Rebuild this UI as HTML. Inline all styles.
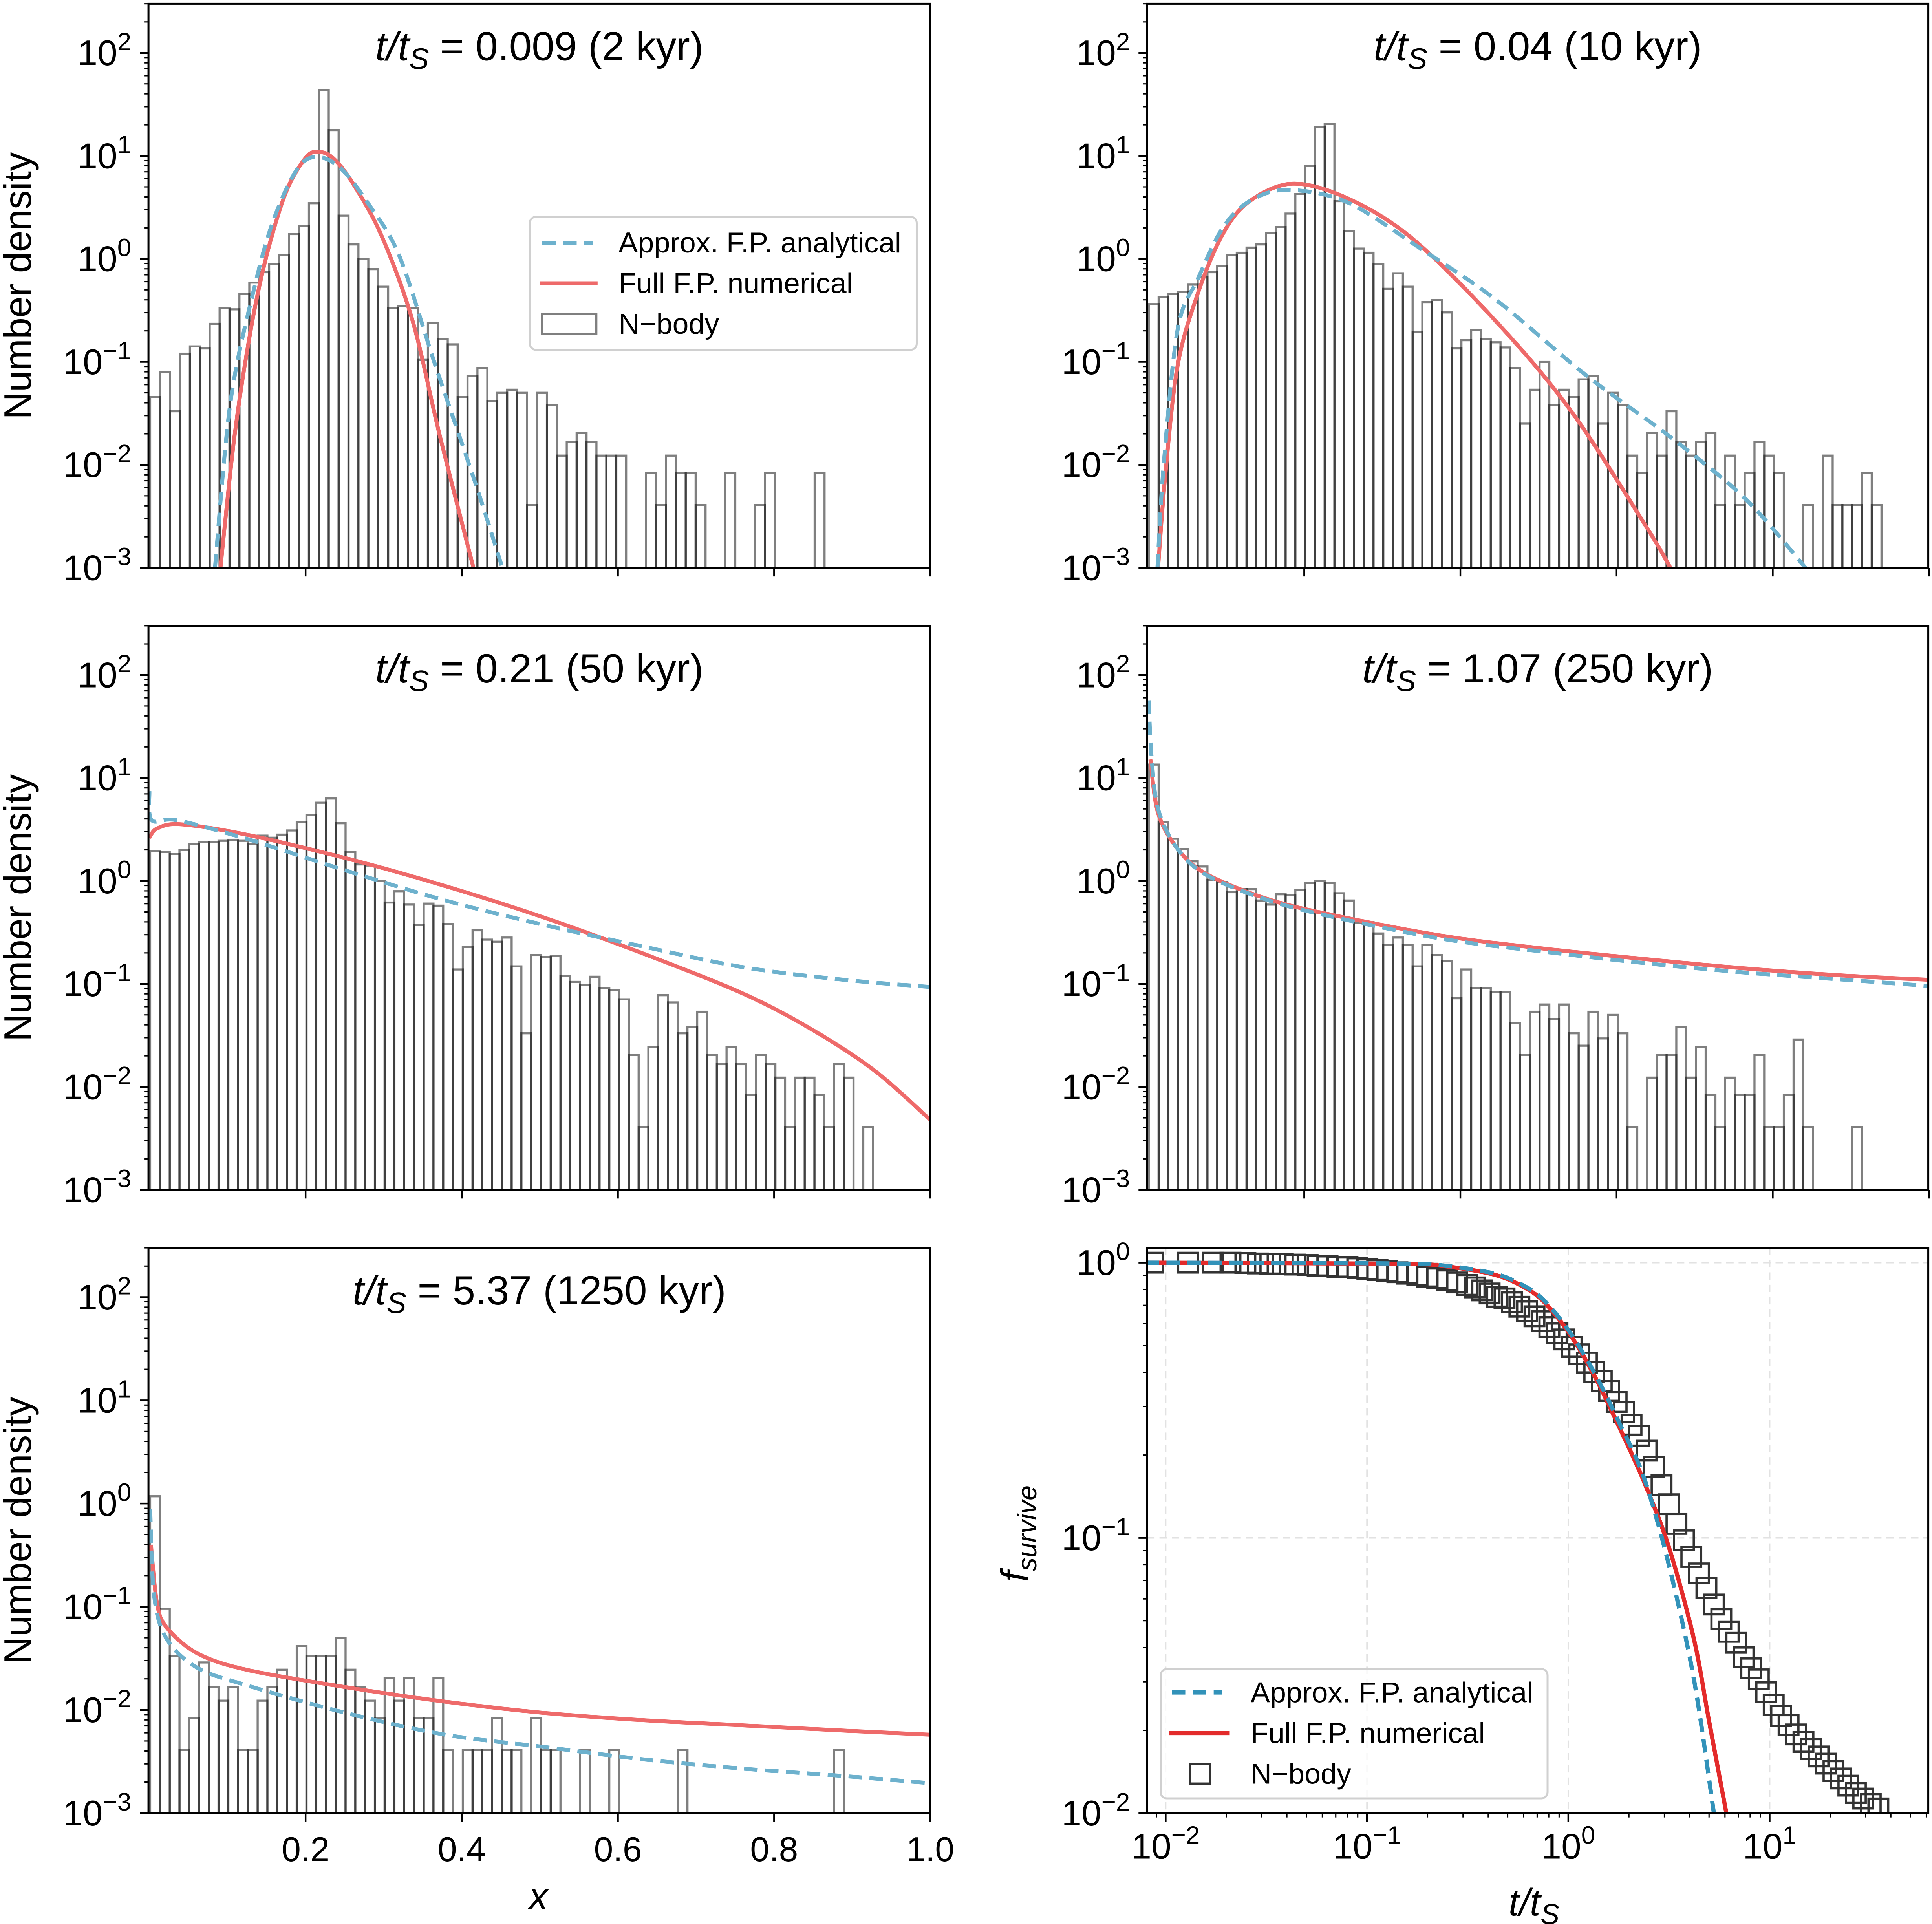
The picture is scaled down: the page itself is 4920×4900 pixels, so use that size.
<!DOCTYPE html>
<html><head><meta charset="utf-8"><title>Fokker-Planck vs N-body</title>
<style>
html,body{margin:0;padding:0;background:#fff;}
svg{display:block;}
text{font-family:"Liberation Sans",sans-serif;fill:#000;}
</style></head>
<body>
<svg id="chart" xmlns="http://www.w3.org/2000/svg" width="4920" height="4900" viewBox="0 0 1568 1562" preserveAspectRatio="none"></svg>
<script>
// ---------- DATA ----------
const panelTitles = ["0.009 (2 kyr)", "0.04 (10 kyr)", "0.21 (50 kyr)", "1.07 (250 kyr)", "5.37 (1250 kyr)"];
const binWidths = [0.0127, 0.01251, 0.01251, 0.01251, 0.01251];
const hist1 = [-1.34,-1.10,-1.48,-0.92,-0.85,-0.87,-0.63,-0.48,-0.49,-0.34,-0.23,-0.13,-0.05,0.04,0.24,0.32,0.54,1.64,1.25,0.42,0.14,0.00,-0.10,-0.27,-0.48,-0.46,-0.48,-0.98,-0.62,-0.78,-0.83,-1.34,-1.14,-1.06,-1.38,-1.30,-1.27,-1.30,-2.39,-1.30,-1.42,-1.91,-1.78,-1.69,-1.78,-1.91,-1.91,-1.91,null,null,-2.08,-2.39,-1.91,-2.08,-2.08,-2.39,null,null,-2.08,null,null,-2.39,-2.08,null,null,null,null,-2.08];
const hist2 = [-0.44,-0.37,-0.34,-0.32,-0.25,-0.18,-0.13,-0.07,0.04,0.06,0.11,0.14,0.25,0.31,0.44,0.63,0.90,1.28,1.31,0.56,0.27,0.10,0.06,-0.05,-0.29,-0.14,-0.27,-0.71,-0.42,-0.40,-0.52,-0.87,-0.79,-0.69,-0.78,-0.81,-0.86,-1.06,-1.60,-1.27,-1.00,-1.42,-1.27,-1.34,-1.17,-1.14,-1.60,-1.30,-1.42,-1.91,-2.08,-1.69,-1.91,-1.48,-1.78,-1.91,-1.78,-1.69,-2.39,-1.91,-2.39,-2.08,-1.78,-1.91,-2.08,null,null,-2.39,null,-1.91,-2.39,-2.39,-2.39,-2.08,-2.39];
const hist3 = [0.29,0.28,0.26,0.30,0.36,0.38,0.38,0.39,0.40,0.39,0.36,0.44,0.42,0.45,0.49,0.57,0.64,0.76,0.80,0.56,0.28,0.16,0.15,0.00,-0.21,-0.10,-0.23,-0.43,-0.22,-0.24,-0.42,-0.86,-0.64,-0.48,-0.57,-0.59,-0.55,-0.83,-1.48,-0.72,-0.74,-0.73,-0.92,-0.98,-1.01,-0.93,-1.04,-1.06,-1.15,-1.69,-2.39,-1.61,-1.11,-1.18,-1.48,-1.42,-1.27,-1.69,-1.78,-1.61,-1.78,-2.08,-1.69,-1.78,-1.91,-2.39,-1.91,-1.91,-2.08,-2.39,-1.78,-1.91,null,-2.39];
const hist4 = [1.13,0.57,0.41,0.31,0.19,0.14,0.01,-0.01,-0.11,-0.08,-0.08,-0.19,-0.23,-0.13,-0.14,-0.09,-0.02,0.00,-0.02,-0.12,-0.19,-0.41,-0.40,-0.51,-0.62,-0.55,-0.62,-0.83,-0.62,-0.72,-0.78,-1.14,-0.86,-1.04,-1.04,-1.08,-1.08,-1.38,-1.69,-1.27,-1.20,-1.34,-1.20,-1.48,-1.60,-1.27,-1.53,-1.30,-1.48,-2.39,null,-1.91,-1.69,-1.69,-1.42,-1.91,-1.61,-2.08,-2.39,-1.91,-2.08,-2.08,-1.69,-2.39,-2.39,-2.08,-1.54,-2.39,null,null,null,null,-2.39];
const hist5 = [0.07,-1.02,-1.48,-2.39,-2.08,-1.54,-1.78,-1.91,-1.78,-2.39,-2.39,-1.91,-1.78,-1.61,-1.69,-1.38,-1.48,-1.48,-1.48,-1.30,-1.61,-1.78,-1.91,-2.08,-1.69,-1.91,-1.69,-2.08,-2.08,-1.69,-2.39,null,-2.39,-2.39,-2.39,-2.08,-2.39,-2.39,null,-2.08,-2.39,-2.39,null,null,-2.39,null,null,-2.39,null,null,null,null,null,null,-2.39,null,null,null,null,null,null,null,null,null,null,null,null,null,null,null,-2.39];
const redX1 = [0.091,0.109,0.130,0.150,0.175,0.20,0.216,0.235,0.26,0.297,0.337,0.372,0.415];
const redY1 = [-3,-1.72,-0.68,0.03,0.65,0.98,1.04,0.98,0.74,0.23,-0.60,-1.72,-3];
const blueX1 = [0.084,0.104,0.135,0.16,0.19,0.215,0.245,0.28,0.32,0.366,0.418,0.452];
const blueY1 = [-3,-1.38,-0.26,0.40,0.88,0.99,0.88,0.54,0.03,-1.03,-2.19,-3];
const redX2 = [0.0128,0.0223,0.038,0.064,0.0956,0.13,0.185,0.255,0.338,0.446,0.542,0.638,0.669];
const redY2 = [-3,-2.08,-1.03,-0.33,0.24,0.56,0.73,0.59,0.20,-0.61,-1.48,-2.6,-3];
const blueX2 = [0.012,0.02,0.038,0.064,0.0956,0.13,0.178,0.255,0.351,0.446,0.561,0.669,0.765,0.842];
const blueY2 = [-3,-2.0,-0.68,-0.19,0.30,0.56,0.67,0.55,0.09,-0.40,-1.13,-1.73,-2.33,-3];
const redX3 = [0.0,0.01,0.04,0.124,0.252,0.379,0.507,0.634,0.762,0.85,0.93,1.0];
const redY3 = [0.42,0.51,0.55,0.45,0.22,-0.05,-0.36,-0.71,-1.10,-1.45,-1.85,-2.32];
const blueX3 = [0,0.003,0.035,0.124,0.252,0.379,0.507,0.634,0.762,0.889,1.0];
const blueY3 = [0.87,0.59,0.59,0.41,0.10,-0.19,-0.43,-0.64,-0.84,-0.96,-1.03];
const redX4 = [0.003,0.0128,0.038,0.0765,0.159,0.255,0.383,0.51,0.638,0.765,0.893,1.0];
const redY4 = [1.18,0.66,0.31,0.06,-0.19,-0.36,-0.54,-0.66,-0.76,-0.85,-0.92,-0.96];
const blueX4 = [0.001,0.004,0.0128,0.038,0.0765,0.159,0.255,0.383,0.51,0.638,0.765,0.893,1.0];
const blueY4 = [1.75,1.25,0.70,0.31,0.05,-0.20,-0.38,-0.57,-0.69,-0.80,-0.89,-0.96,-1.02];
const redX5 = [0.002,0.0096,0.022,0.061,0.124,0.252,0.379,0.507,0.634,0.762,0.889,1.0];
const redY5 = [-0.40,-0.96,-1.20,-1.45,-1.61,-1.78,-1.92,-2.03,-2.10,-2.15,-2.20,-2.24];
const blueX5 = [0.001,0.006,0.022,0.061,0.124,0.252,0.379,0.507,0.634,0.762,0.889,1.0];
const blueY5 = [-0.05,-0.89,-1.31,-1.59,-1.76,-2.03,-2.24,-2.36,-2.48,-2.57,-2.64,-2.71];
const xTickLabels = ["0.2","0.4","0.6","0.8","1.0"];
const xTickValues = [0.2,0.4,0.6,0.8,1.0];
const yDecades = [-3,-2,-1,0,1,2];
// survival panel
const logTime = [-2.062,-1.889,-1.765,-1.678,-1.604,-1.542,-1.480,-1.418,-1.356,-1.295,-1.245,-1.196,-1.146,-1.097,-1.047,-0.998,-0.948,-0.899,-0.849,-0.800,-0.750,-0.701,-0.651,-0.601,-0.552,-0.502,-0.465,-0.428,-0.391,-0.354,-0.317,-0.280,-0.243,-0.205,-0.168,-0.131,-0.094,-0.057,-0.020,0.017,0.054,0.092,0.129,0.166,0.203,0.240,0.277,0.314,0.351,0.389,0.426,0.463,0.500,0.537,0.574,0.611,0.649,0.686,0.723,0.760,0.797,0.834,0.871,0.908,0.946,0.983,1.020,1.057,1.094,1.131,1.168,1.205,1.243,1.280,1.317,1.354,1.391,1.428,1.465,1.502,1.540];
const logSurvival = [0,0,0,0,-0.001,-0.003,-0.004,-0.005,-0.007,-0.009,-0.011,-0.013,-0.015,-0.017,-0.020,-0.024,-0.027,-0.031,-0.035,-0.040,-0.045,-0.051,-0.057,-0.064,-0.072,-0.081,-0.090,-0.101,-0.112,-0.124,-0.130,-0.144,-0.160,-0.177,-0.195,-0.213,-0.234,-0.257,-0.279,-0.306,-0.333,-0.363,-0.397,-0.430,-0.466,-0.506,-0.543,-0.589,-0.629,-0.683,-0.742,-0.809,-0.878,-0.949,-1.009,-1.069,-1.129,-1.182,-1.242,-1.295,-1.341,-1.381,-1.434,-1.474,-1.514,-1.561,-1.607,-1.647,-1.680,-1.714,-1.741,-1.767,-1.794,-1.820,-1.847,-1.874,-1.900,-1.927,-1.947,-1.967,-1.983];
const fpRedLogT = [-2.1,-0.861,-0.614,-0.366,-0.218,-0.119,0.005,0.129,0.252,0.376,0.5,0.624,0.698,0.785];
const fpRedLogF = [0,-0.004,-0.013,-0.044,-0.09,-0.144,-0.257,-0.41,-0.596,-0.796,-1.035,-1.368,-1.661,-2.0];
const fpBlueLogT = [-2.1,-0.861,-0.614,-0.366,-0.218,-0.119,0.005,0.129,0.252,0.376,0.5,0.624,0.723];
const fpBlueLogF = [0,-0.003,-0.011,-0.040,-0.085,-0.138,-0.25,-0.40,-0.58,-0.782,-1.1,-1.514,-2.0];
const survXDecades = [-2,-1,0,1];
const survYDecades = [-2,-1,0];

// ---------- LAYOUT ----------
const NS = "http://www.w3.org/2000/svg";
const svg = document.getElementById("chart");
const colL = [120.5, 931], colR = [755, 1565];
const rowT = [3, 508, 1013], rowB = [461, 966, 1472];
const Y_MIN = -3, Y_MAX = 2.478;
const BLUE_LIGHT = "#6db1cd", RED_LIGHT = "#ee6a6a";
const BLUE_DARK = "#3292b9", RED_DARK = "#e32b2b";

function mk(tag, attrs, parent) {
  const e = document.createElementNS(NS, tag);
  for (const k in attrs) e.setAttribute(k, attrs[k]);
  (parent || svg).appendChild(e);
  return e;
}
function smoothPath(pts) {
  let d = "M" + pts[0][0].toFixed(2) + "," + pts[0][1].toFixed(2);
  for (let i = 0; i < pts.length - 1; i++) {
    const p0 = pts[Math.max(0, i - 1)], p1 = pts[i], p2 = pts[i + 1], p3 = pts[Math.min(pts.length - 1, i + 2)];
    const t = 0.16;
    const c1 = [p1[0] + (p2[0] - p0[0]) * t, p1[1] + (p2[1] - p0[1]) * t];
    const c2 = [p2[0] - (p3[0] - p1[0]) * t, p2[1] - (p3[1] - p1[1]) * t];
    d += " C" + c1[0].toFixed(2) + "," + c1[1].toFixed(2) + " " + c2[0].toFixed(2) + "," + c2[1].toFixed(2) + " " + p2[0].toFixed(2) + "," + p2[1].toFixed(2);
  }
  return d;
}
function powLabel(parent, x, y, exp, size, anchorEnd) {
  const t = mk("text", {x: x, y: y, "font-size": size, "text-anchor": anchorEnd ? "end" : "middle"}, parent);
  
  
  const a = mk("tspan", {}, t); a.textContent = "10";
  const b = mk("tspan", {dy: -size * 0.42, "font-size": size * 0.7}, t);
  b.textContent = exp < 0 ? "\u2212" + (-exp) : String(exp);
  return t;
}
const defs = mk("defs", {});

const histData = [hist1, hist2, hist3, hist4, hist5];
const curveData = [[redX1, redY1, blueX1, blueY1], [redX2, redY2, blueX2, blueY2], [redX3, redY3, blueX3, blueY3], [redX4, redY4, blueX4, blueY4], [redX5, redY5, blueX5, blueY5]];

for (let p = 0; p < 5; p++) {
  const col = p % 2, row = Math.floor(p / 2);
  const L = colL[col], R = colR[col], T = rowT[row], B = rowB[row];
  const sx = v => (col === 0 ? 248 : 1058.5) + (v - 0.2) * ((755 - 248) / 0.8);
  const sy = lv => B - (lv - Y_MIN) * (B - T) / (Y_MAX - Y_MIN);
  const g = mk("g", {});
  
  
  const cp = mk("clipPath", {id: "clip" + p}, defs);
  mk("rect", {x: L, y: T, width: R - L, height: B - T}, cp);
  const hg = mk("g", {"clip-path": "url(#clip" + p + ")"}, g);
  
  
  const bw = binWidths[p];
  histData[p].forEach((lv, i) => {
    if (lv === null) return;
    const x0 = sx(0.001 + i * bw), x1 = sx(0.001 + (i + 1) * bw);
    const y0 = sy(lv);
    const r = mk("rect", {x: x0, y: y0, width: x1 - x0, height: B + 2 - y0, fill: "none", stroke: "rgba(0,0,0,0.5)", "stroke-width": 1.7}, hg);
    
    
  });
  const cd = curveData[p];
  const bluePts = cd[2].map((x, i) => [sx(x), sy(cd[3][i])]);
  const redPts = cd[0].map((x, i) => [sx(x), sy(cd[1][i])]);
  const redPath = mk("path", {d: smoothPath(redPts), fill: "none", stroke: RED_LIGHT, "stroke-width": 3.2, "clip-path": "url(#clip" + p + ")", "stroke-linejoin": "round"}, g);
  
  
  const bluePath = mk("path", {d: smoothPath(bluePts), fill: "none", stroke: BLUE_LIGHT, "stroke-width": 3.2, "stroke-dasharray": "11,6", "clip-path": "url(#clip" + p + ")"}, g);
  
  
  const fr = mk("rect", {x: L, y: T, width: R - L, height: B - T, fill: "none", stroke: "#000", "stroke-width": 1.6}, g);
  
  
  yDecades.forEach(d => {
    const y = sy(d);
    mk("line", {x1: L - 7, x2: L, y1: y, y2: y, stroke: "#000", "stroke-width": 1.4}, g);
    powLabel(g, L - 14, y + 10, d, 29, true);
    if (d < 2) for (let m = 2; m <= 9; m++) {
      const ym = sy(d + Math.log10(m));
      if (ym < T) continue;
      mk("line", {x1: L - 3.5, x2: L, y1: ym, y2: ym, stroke: "#000", "stroke-width": 1}, g);
    }
  });
  for (let m = 2; m <= 3; m++) { const ym = sy(2 + Math.log10(m)); if (ym >= T) mk("line", {x1: L - 3.5, x2: L, y1: ym, y2: ym, stroke: "#000", "stroke-width": 1}, g); }
  xTickValues.forEach((v, i) => {
    const x = sx(v);
    mk("line", {x1: x, x2: x, y1: B, y2: B + 7, stroke: "#000", "stroke-width": 1.4}, g);
    if (row === 2) {
      const t = mk("text", {x: x, y: B + 39, "font-size": 28, "text-anchor": "middle"}, g);
      
      
      t.textContent = xTickLabels[i];
    }
  });
  const tt = mk("text", {x: (L + R) / 2, y: T + 46, "font-size": 33, "text-anchor": "middle"}, g);
  
  
  const a1 = mk("tspan", {"font-style": "italic"}, tt); a1.textContent = "t/t";
  const a2 = mk("tspan", {"font-style": "italic", "font-size": 24, dy: 7}, tt); a2.textContent = "S";
  const a3 = mk("tspan", {dy: -7}, tt); a3.textContent = " = " + panelTitles[p];
  if (col === 0) {
    const yl = mk("text", {x: 0, y: 0, "font-size": 31, "text-anchor": "middle", transform: "translate(25," + ((T + B) / 2) + ") rotate(-90)"}, g);
    
    
    yl.textContent = "Number density";
  }
}

(function () {
  const g = mk("g", {});
  
  
  mk("rect", {x: 430, y: 176, width: 314, height: 108, rx: 5, fill: "rgba(255,255,255,0.8)", stroke: "#d0d0d0", "stroke-width": 1.6}, g);
  mk("line", {x1: 440, x2: 481, y1: 197, y2: 197, stroke: BLUE_LIGHT, "stroke-width": 3.2, "stroke-dasharray": "11,6"}, g);
  mk("line", {x1: 438, x2: 485, y1: 230, y2: 230, stroke: RED_LIGHT, "stroke-width": 3.2}, g);
  mk("rect", {x: 440, y: 255, width: 44, height: 16, fill: "none", stroke: "rgba(0,0,0,0.5)", "stroke-width": 1.7}, g);
  [["Approx. F.P. analytical", 205], ["Full F.P. numerical", 238], ["N\u2212body", 271]].forEach(e => {
    const t = mk("text", {x: 502, y: e[1], "font-size": 23.5}, g);
    
    
    t.textContent = e[0];
  });
})();

(function () {
  const t = mk("text", {x: 437, y: 1550, "font-size": 31, "text-anchor": "middle", "font-style": "italic"});
  
  
  t.textContent = "x";
})();

(function () {
  const L = colL[1], R = colR[1], T = rowT[2], B = rowB[2];
  const X0 = -2.092, X1 = 1.788, YB = -2, YT = 0.054;
  const sx = lt => L + (lt - X0) * (R - L) / (X1 - X0);
  const sy = lf => B - (lf - YB) * (B - T) / (YT - YB);
  const g = mk("g", {});
  
  
  const cp = mk("clipPath", {id: "clip5"}, defs);
  mk("rect", {x: L, y: T, width: R - L, height: B - T}, cp);
  survXDecades.forEach(d => { const l = mk("line", {x1: sx(d), x2: sx(d), y1: T, y2: B, stroke: "#e2e2e2", "stroke-width": 1.2, "stroke-dasharray": "6,4"}, g);   });
  survYDecades.forEach(d => { const l = mk("line", {x1: L, x2: R, y1: sy(d), y2: sy(d), stroke: "#e2e2e2", "stroke-width": 1.2, "stroke-dasharray": "6,4"}, g);   });
  const cg = mk("g", {"clip-path": "url(#clip5)"}, g);
  logTime.forEach((lt, i) => {
    const x = sx(lt), y = sy(logSurvival[i]);
    const s = mk("rect", {x: x - 8, y: y - 8, width: 16, height: 16, fill: "none", stroke: "#333", "stroke-width": 1.8}, cg);
    
    
  });
  const rp = mk("path", {d: smoothPath(fpRedLogT.map((t, i) => [sx(t), sy(fpRedLogF[i])])), fill: "none", stroke: RED_DARK, "stroke-width": 3.4}, cg);
  
  
  const bp = mk("path", {d: smoothPath(fpBlueLogT.map((t, i) => [sx(t), sy(fpBlueLogF[i])])), fill: "none", stroke: BLUE_DARK, "stroke-width": 3.4, "stroke-dasharray": "11,6"}, cg);
  
  
  const fr = mk("rect", {x: L, y: T, width: R - L, height: B - T, fill: "none", stroke: "#000", "stroke-width": 1.6}, g);
  
  
  for (let d = -3; d <= 1; d++) {
    if (d >= -2) { const x = sx(d); mk("line", {x1: x, x2: x, y1: B, y2: B + 7, stroke: "#000", "stroke-width": 1.4}, g); powLabel(g, x, B + 37, d, 29, false); }
    for (let m = 2; m <= 9; m++) { const lt = d + Math.log10(m); if (lt < X0 || lt > X1) continue; const x = sx(lt); mk("line", {x1: x, x2: x, y1: B, y2: B + 3.5, stroke: "#000", "stroke-width": 1}, g); }
  }
  survYDecades.forEach(d => {
    const y = sy(d);
    mk("line", {x1: L - 7, x2: L, y1: y, y2: y, stroke: "#000", "stroke-width": 1.4}, g);
    powLabel(g, L - 14, y + 10, d, 29, true);
    if (d < 0) for (let m = 2; m <= 9; m++) { const ym = sy(d + Math.log10(m)); mk("line", {x1: L - 3.5, x2: L, y1: ym, y2: ym, stroke: "#000", "stroke-width": 1}, g); }
  });
  const xl = mk("text", {x: 1245, y: 1555, "font-size": 31, "text-anchor": "middle", "font-style": "italic"}, g);
  
  
  const x1 = mk("tspan", {}, xl); x1.textContent = "t/t";
  const x2 = mk("tspan", {"font-size": 23, dy: 7}, xl); x2.textContent = "S";
  const yl = mk("text", {x: 0, y: 0, "font-size": 31, "text-anchor": "middle", "font-style": "italic", transform: "translate(834,1245) rotate(-90)"}, g);
  
  
  const y1 = mk("tspan", {}, yl); y1.textContent = "f";
  const y2 = mk("tspan", {"font-size": 22, dy: 7}, yl); y2.textContent = "survive";
  const lg = mk("g", {}, g);
  
  
  mk("rect", {x: 942, y: 1355, width: 314, height: 105, rx: 5, fill: "rgba(255,255,255,0.8)", stroke: "#d0d0d0", "stroke-width": 1.6}, lg);
  mk("line", {x1: 951, x2: 992, y1: 1374, y2: 1374, stroke: BLUE_DARK, "stroke-width": 3.4, "stroke-dasharray": "11,6"}, lg);
  mk("line", {x1: 949, x2: 998, y1: 1407, y2: 1407, stroke: RED_DARK, "stroke-width": 3.4}, lg);
  mk("rect", {x: 966, y: 1432, width: 16, height: 16, fill: "none", stroke: "#333", "stroke-width": 1.8}, lg);
  [["Approx. F.P. analytical", 1382], ["Full F.P. numerical", 1415], ["N\u2212body", 1448]].forEach(e => {
    const t = mk("text", {x: 1015, y: e[1], "font-size": 23.5}, lg);
    
    
    t.textContent = e[0];
  });
})();
</script>
</body></html>
